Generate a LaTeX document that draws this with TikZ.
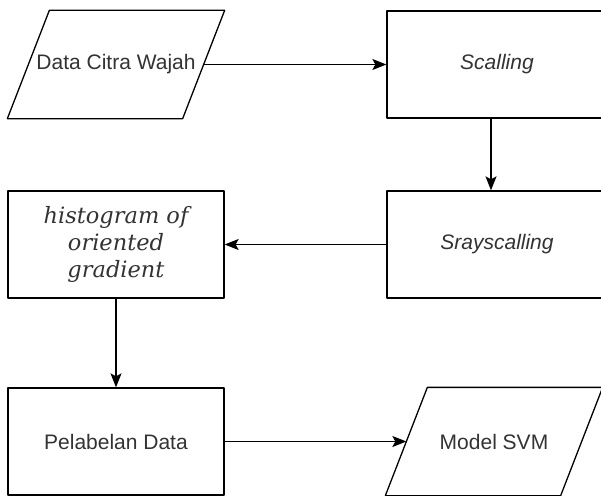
\documentclass[tikz,border=0pt]{standalone}
\usepackage{fontspec}
\setmainfont{Liberation Sans}
\newfontfamily\hogfont{DejaVu Serif}
\usetikzlibrary{arrows.meta}
\tikzset{
  procbox/.style={draw,line width=1.3pt,minimum width=220pt,minimum height=107pt,
    inner sep=0pt,text=black!80,font=\fontsize{21}{25}\selectfont},
  iobox/.style={procbox,draw=none,minimum width=216pt},
  flow/.style={line width=1.3pt,-{Stealth[length=14pt,width=11pt,inset=3pt]}}
}
\begin{document}
\begin{tikzpicture}[x=1pt,y=-1pt,line cap=round,line join=round]
  \clip (0,0) rectangle (601,495);
  \fill[white] (0,0) rectangle (601,495);

  \node[iobox] (data) at (116,64.5) {Data Citra Wajah};
  \node[procbox] (scale) at (497,64.5) {\itshape Scalling};
  \node[procbox] (gray) at (497,244.5) {\itshape Srayscalling};
  \node[procbox,minimum width=216pt,align=center,
    font=\hogfont\itshape\fontsize{22.5}{27}\selectfont] (hog) at (116,244.5)
    {histogram of\\oriented\\gradient};
  \node[procbox,minimum width=216pt] (label) at (116,441.5) {Pelabelan Data};
  \node[iobox] (svm) at (494,441.5) {Model SVM};

  % slanted input/output outlines
  \foreach \n in {data,svm}
    \draw[line width=1.3pt] ([xshift=42pt]\n.north west) -- (\n.north east)
      -- ([xshift=-42pt]\n.south east) -- (\n.south west) -- cycle;

  \draw[flow] ([xshift=-21pt]data.east) -- (scale.west);
  \draw[flow] ([xshift=-6pt]scale.south) -- ([xshift=-6pt]gray.north);
  \draw[flow] (gray.west) -- (hog.east);
  \draw[flow] (hog.south) -- (label.north);
  \draw[flow] (label.east) -- ([xshift=21pt]svm.west);
\end{tikzpicture}
\end{document}
